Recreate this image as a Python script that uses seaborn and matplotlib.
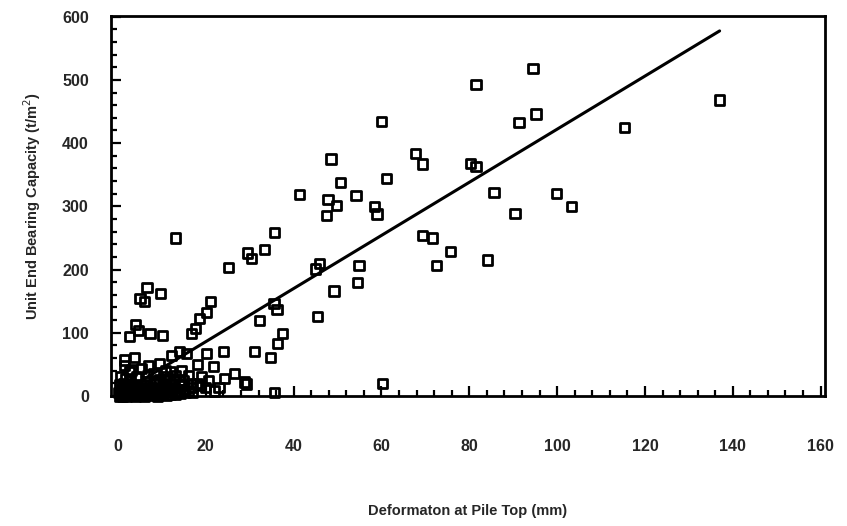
import numpy as np
import pandas as pd
import matplotlib
matplotlib.use("Agg")
import matplotlib.pyplot as plt
import seaborn as sns
from matplotlib.ticker import MultipleLocator

# --- data ---
deformation_mm = [
    94.5, 81.5, 95.2, 91.3, 137.0, 115.3, 60.0, 67.7, 69.3, 80.3, 81.5, 61.1, 85.6, 99.8, 103.2,
    90.4, 69.3, 71.6, 75.7, 72.5, 84.2, 60.2,
    48.5, 50.6, 41.4, 47.8, 49.7, 47.4, 54.2, 58.4, 59.0, 35.7, 33.4, 29.5, 30.4, 45.8, 44.9,
    54.9, 54.5, 49.2, 45.5, 35.5, 36.2, 32.3, 37.5, 36.4, 31.1, 34.8, 35.7, 28.8,
    13.0, 25.2, 6.6, 9.6, 5.0, 6.0, 21.1, 20.1, 18.5, 17.6, 16.7, 3.9, 4.6, 7.3, 10.1, 2.7,
    1.4, 3.7, 5.3, 2.7, 12.1, 14.0, 18.1, 20.1, 24.0, 26.5, 24.3, 29.3, 18.5, 20.6, 21.7, 15.6,
    9.2, 12.0, 15.0, 16.7, 20.0, 3.0,
    0.5, 1.0, 1.5, 2.0, 2.5, 3.0, 3.5, 4.0, 4.5, 5.0, 5.5, 6.0, 6.5, 7.0, 7.5, 8.0, 8.5, 9.0,
    9.5, 10.0, 10.5, 11.0, 11.5, 12.0, 12.5, 13.0, 13.5, 14.0, 14.5, 15.0, 0.8, 1.2, 1.8, 2.2,
    0.3, 1.0, 2.0, 3.0, 4.0, 5.0, 6.0, 7.0, 8.0, 9.0, 10.0, 11.0, 12.0, 13.0, 16.0, 17.0,
    2.8, 4.2, 6.8, 8.2, 10.8, 0.6, 1.5, 7.0, 9.5, 11.8, 14.5, 16.0, 17.0, 19.0, 22.0, 23.0,
    0.2, 0.9, 1.6, 2.4, 3.2, 3.9, 4.7, 5.6, 6.3, 7.1, 7.9, 8.7, 9.6, 10.4, 11.3, 12.2,
    13.1, 14.2, 15.3, 0.4, 1.3, 2.6, 3.6, 5.2, 6.1, 8.4, 10.2, 12.6, 14.8, 18.0,
]
capacity_tm2 = [
    518, 493, 446, 432, 468, 425, 434, 384, 367, 368, 363, 344, 322, 320, 300,
    289, 254, 250, 229, 206, 215, 20,
    375, 338, 319, 311, 301, 286, 317, 300, 288, 259, 232, 226, 217, 210, 201,
    206, 179, 166, 126, 146, 137, 119, 99, 83, 71, 61, 6, 22,
    250, 203, 171, 162, 154, 149, 149, 132, 122, 107, 99, 113, 104, 99, 96, 94,
    57, 61, 44, 39, 64, 71, 50, 67, 71, 36, 28, 19, 17, 24, 47, 67,
    24, 39, 25, 20, 13, 41,
    2, 5, 8, 3, 12, 6, 15, 2, 9, 18, 4, 11, 22, 7, 14, 3, 19, 10,
    26, 5, 15, 30, 8, 20, 12, 33, 6, 24, 16, 10, 12, 20, 28, 16,
    0, 0, 0, 1, 0, 1, 0, 2, 1, 0, 2, 1, 3, 2, 8, 5,
    25, 30, 32, 36, 40, 30, 48, 48, 52, 28, 40, 33, 14, 30, 8, 14,
    6, 3, 10, 7, 4, 9, 6, 3, 8, 5, 9, 6, 4, 8, 5, 9,
    7, 4, 6, 18, 14, 20, 10, 12, 16, 22, 18, 24, 20, 20,
]
fit_slope = 4.2
fit_intercept = 2.0

x_ticks = [0, 20, 40, 60, 80, 100, 120, 140, 160]
y_ticks = [0, 100, 200, 300, 400, 500, 600]
x_label = "Deformaton at Pile Top (mm)"
y_label = "Unit End Bearing Capacity (t/m$^2$)"

df = pd.DataFrame({"x": deformation_mm, "y": capacity_tm2})

sns.set_style("ticks")
plt.rcParams["font.family"] = ["Liberation Sans", "DejaVu Sans"]

fig = plt.figure(figsize=(8.47, 5.26), dpi=100)
ax = fig.add_axes([111 / 847, 1 - 396 / 526, (825 - 111) / 847, (396 - 16) / 526])

sns.scatterplot(data=df, x="x", y="y", ax=ax, marker="s", s=44,
                facecolor="none", edgecolor="black", linewidth=2.0,
                clip_on=False, zorder=3, legend=False)

line_x = np.array([0.0, max(deformation_mm)])
line_df = pd.DataFrame({"x": line_x, "y": fit_intercept + fit_slope * line_x})
sns.lineplot(data=line_df, x="x", y="y", ax=ax, color="black", linewidth=2.2, zorder=4)

ax.set_xlim(-1.6, 161)
ax.set_ylim(1.5, 601)
ax.set_xticks(x_ticks)
ax.set_yticks(y_ticks)
ax.xaxis.set_minor_locator(MultipleLocator(4))
ax.yaxis.set_minor_locator(MultipleLocator(20))

for sp in ax.spines.values():
    sp.set_linewidth(2.0)
    sp.set_color("black")

ax.tick_params(axis="both", which="both", direction="in", top=False, right=False,
               color="black", width=1.6)
ax.tick_params(axis="both", which="major", length=7)
ax.tick_params(axis="both", which="minor", length=4)
ax.tick_params(axis="x", which="major", pad=31, labelsize=11.5)
ax.tick_params(axis="y", which="major", pad=16, labelsize=11.5)
for lbl in ax.get_xticklabels() + ax.get_yticklabels():
    lbl.set_fontweight("bold")

ax.set_xlabel(x_label, fontsize=10.5, fontweight="bold", labelpad=36)
ax.set_ylabel(y_label, fontsize=10.5, fontweight="bold", labelpad=14)

fig.savefig("out.png", dpi=100)
